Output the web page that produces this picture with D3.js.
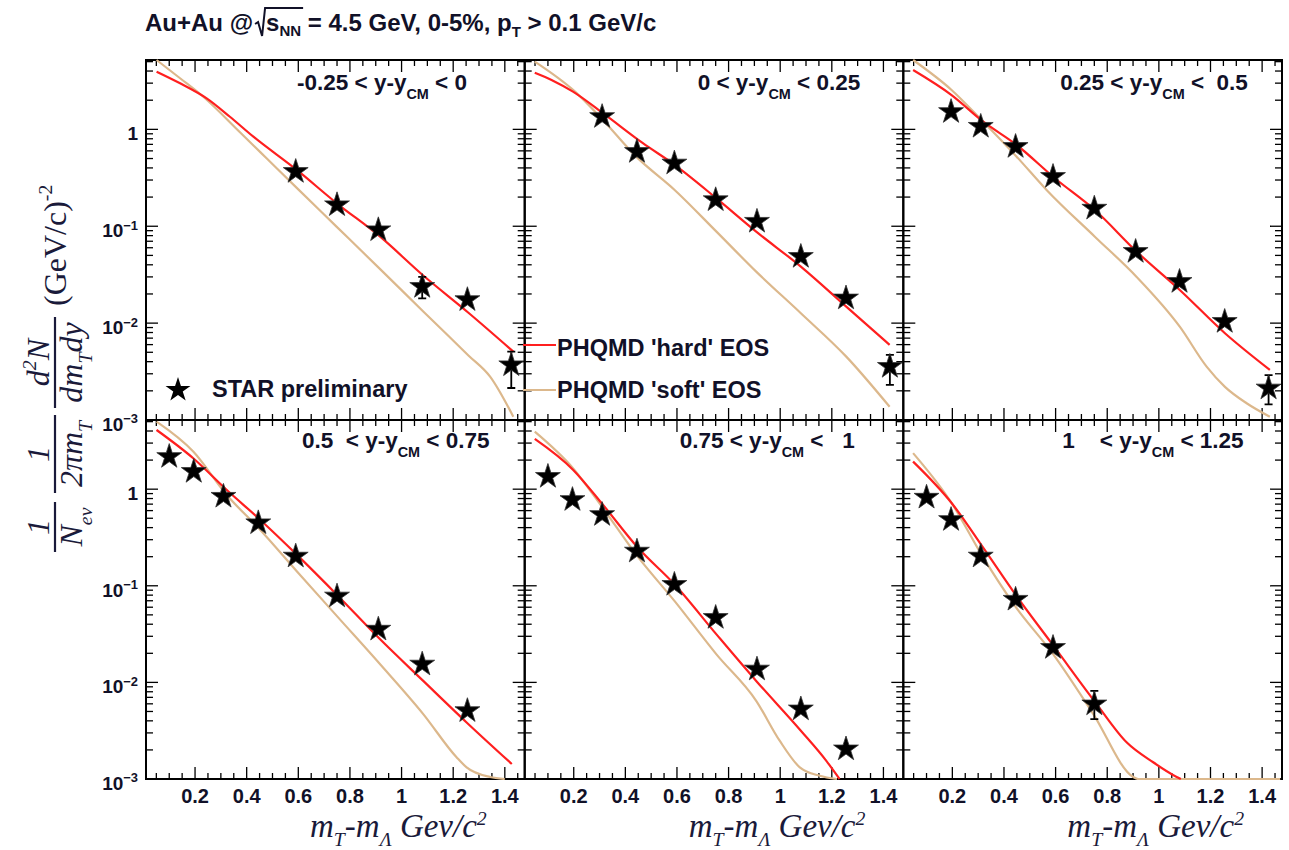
<!DOCTYPE html>
<html><head><meta charset="utf-8">
<script src="https://cdn.jsdelivr.net/npm/d3@7"></script>
<style>
body{margin:0;background:#fff;}
svg{display:block;}
text{font-family:"Liberation Sans",Arial,Helvetica,sans-serif;white-space:pre;}
.serif text, text.serif{font-family:"Liberation Serif","Times New Roman",serif;font-style:italic;}
</style></head><body>
<svg id="chart" width="1289" height="850"></svg>
<script>
// ---------------- data ----------------
const binX = [0.10, 0.195, 0.31, 0.445, 0.59, 0.75, 0.91, 1.08, 1.255, 1.425];
const rapLow  = ["-0.25", "0", "0.25", "0.5 ", "0.75", "1   "];
const rapHigh = ["0", "0.25", " 0.5", "0.75", "  1", "1.25"];
const starY = [
  [null, null, null, null, 0.366, 0.166, 0.0916, 0.0238, 0.0174, 0.0037],
  [null, null, 1.35, 0.589, 0.447, 0.187, 0.112, 0.0486, 0.0181, 0.00356],
  [null, 1.52, 1.07, 0.663, 0.325, 0.153, 0.0547, 0.0268, 0.01036, 0.00213],
  [2.17, 1.52, 0.84, 0.447, 0.202, 0.078, 0.0354, 0.0154, 0.00508, null],
  [1.35, 0.778, 0.544, 0.2275, 0.103, 0.0468, 0.01368, 0.00529, 0.00204, null],
  [0.822, 0.483, 0.202, 0.0722, 0.0229, 0.00596, null, null, null, null]
];
const errLo = [
  [null, null, null, null, null, null, null, 0.018, null, 0.00214],
  [null, null, null, null, null, null, null, null, null, 0.0023],
  [null, null, null, null, null, null, null, null, null, 0.00145],
  [null, null, null, null, null, null, null, null, null, null],
  [null, null, null, null, null, null, null, null, null, null],
  [null, null, null, null, null, 0.00417, null, null, null, null]
];
const errHi = [
  [null, null, null, null, null, null, null, 0.030, null, 0.00507],
  [null, null, null, null, null, null, null, null, null, 0.0047],
  [null, null, null, null, null, null, null, null, null, 0.0029],
  [null, null, null, null, null, null, null, null, null, null],
  [null, null, null, null, null, null, null, null, null, null],
  [null, null, null, null, null, 0.00817, null, null, null, null]
];
const hardX = [
  [0.051, 0.142, 0.245, 0.335, 0.426, 0.594, 0.749, 0.917, 1.084, 1.259, 1.433],
  [0.049, 0.114, 0.197, 0.313, 0.468, 0.591, 0.753, 0.907, 1.08, 1.256, 1.424],
  [0.048, 0.197, 0.32, 0.449, 0.597, 0.752, 0.914, 1.081, 1.256, 1.43],
  [0.051, 0.193, 0.322, 0.452, 0.594, 0.755, 0.917, 1.084, 1.252, 1.427],
  [0.049, 0.197, 0.313, 0.449, 0.591, 0.753, 0.907, 1.08, 1.178, 1.23],
  [0.048, 0.197, 0.32, 0.449, 0.597, 0.759, 0.875, 0.978, 1.069, 1.085]
];
const hardY = [
  [3.94, 2.99, 2.09, 1.35, 0.84, 0.381, 0.1726, 0.078, 0.031, 0.0128, 0.00508],
  [3.85, 3.24, 2.45, 1.47, 0.72, 0.43, 0.194, 0.088, 0.0383, 0.0148, 0.00596],
  [4.1, 2.26, 1.2, 0.69, 0.313, 0.147, 0.0547, 0.022, 0.00787, 0.00329],
  [4.1, 2.09, 0.986, 0.483, 0.21, 0.078, 0.0279, 0.01036, 0.00385, 0.00143],
  [3.31, 1.59, 0.69, 0.247, 0.103, 0.0314, 0.01036, 0.00316, 0.00155, 0.001],
  [1.93, 0.72, 0.247, 0.078, 0.0229, 0.00596, 0.0024, 0.00149, 0.00105, 0.001]
];
const softX = [
  [0.051, 0.142, 0.232, 0.374, 0.478, 0.594, 0.749, 0.917, 1.084, 1.259, 1.343, 1.433],
  [0.049, 0.205, 0.313, 0.442, 0.591, 0.753, 0.907, 1.08, 1.256, 1.424],
  [0.048, 0.197, 0.313, 0.449, 0.565, 0.752, 0.914, 1.081, 1.185, 1.256, 1.34, 1.43],
  [0.051, 0.193, 0.322, 0.452, 0.594, 0.755, 0.917, 1.084, 1.213, 1.252, 1.343, 1.40],
  [0.049, 0.197, 0.313, 0.442, 0.591, 0.753, 0.907, 0.998, 1.076, 1.153, 1.22],
  [0.048, 0.197, 0.313, 0.443, 0.591, 0.746, 0.901, 0.92, 1.47]
];
const softY = [
  [5.2, 3.37, 2.17, 0.933, 0.50, 0.249, 0.0986, 0.0361, 0.0132, 0.00464, 0.0028, 0.00108],
  [5.0, 2.45, 1.25, 0.523, 0.237, 0.088, 0.034, 0.01265, 0.00451, 0.00137],
  [5.2, 2.55, 1.25, 0.523, 0.237, 0.078, 0.030, 0.0092, 0.00356, 0.0022, 0.00149, 0.00108],
  [5.0, 2.45, 0.875, 0.381, 0.1416, 0.0468, 0.0154, 0.0047, 0.00168, 0.00132, 0.00105, 0.001],
  [3.94, 1.65, 0.638, 0.21, 0.0693, 0.0195, 0.00645, 0.00249, 0.00132, 0.00108, 0.001],
  [2.36, 0.72, 0.21, 0.0616, 0.0195, 0.0047, 0.00105, 0.001, 0.001]
];
const xTickValues = [0.2, 0.4, 0.6, 0.8, 1.0, 1.2, 1.4];
const xTickLabels = ["0.2", "0.4", "0.6", "0.8", "1", "1.2", "1.4"];
const yTickValues = [1, 0.1, 0.01, 0.001];
const yTickBase = ["1", "10", "10", "10"];
const yTickExp  = ["", "\u22121", "\u22122", "\u22123"];
const legendEntries = ["PHQMD 'hard' EOS", "PHQMD 'soft' EOS"];
const starLegend = "STAR preliminary";

// ---------------- layout ----------------
const colEdges = [146, 524.7, 903.3, 1282];
const rowEdges = [60, 420, 779];
const xDomain = [0.01, 1.477];
const yDomain = [1e-3, 5.2];
const labelOffset = [151, 173, 157, 156, 155, 159];
const RED = "#ff1f1f", TAN = "#dcb88c", INK = "#111128";

const svg = d3.select("#chart");

function rich(textSel, parts, size, opts = {}) {
  const small = opts.small || 0.62, subS = opts.sub || 0.35, supS = opts.sup || 0.45;
  let shift = 0;
  parts.forEach(([str, kind]) => {
    const target = kind === "sub" ? size * subS : kind === "sup" ? -size * supS : 0;
    const ts = textSel.append("tspan").attr("font-size", kind === "n" ? size : size * small).text(str);
    if (target - shift !== 0) ts.attr("dy", target - shift);
    shift = target;
  });
  return textSel;
}

const defs = svg.append("defs");
const starPath = d3.symbol(d3.symbolStar, 192)();

for (let p = 0; p < 6; p++) {
  const col = p % 3, row = Math.floor(p / 3);
  const x = d3.scaleLinear().domain(xDomain).range([colEdges[col], colEdges[col + 1]]);
  const y = d3.scaleLog().domain(yDomain).range([rowEdges[row + 1], rowEdges[row]]);
  const [x0, x1] = x.range(), [yb, yt] = y.range();
  const g = svg.append("g");
  defs.append("clipPath").attr("id", "clip" + p).append("rect")
    .attr("x", x0).attr("y", yt - 1).attr("width", x1 - x0).attr("height", yb - yt + 2);

  // frame and ticks first (ROOT draws graphs on top of the frame)
  g.append("rect").attr("x", x0).attr("y", yt).attr("width", x1 - x0).attr("height", yb - yt)
    .attr("fill", "none").attr("stroke", "#000").attr("stroke-width", 2);
  const tk = g.append("g").attr("stroke", "#000").attr("stroke-width", 1.3);
  d3.range(1, 30).map(k => k * 0.05).filter(v => v > xDomain[0] && v < xDomain[1]).forEach(v => {
    const major = Math.abs(v / 0.2 - Math.round(v / 0.2)) < 1e-6;
    const L = major ? 12 : 6;
    tk.append("line").attr("x1", x(v)).attr("x2", x(v)).attr("y1", yb).attr("y2", yb - L);
    tk.append("line").attr("x1", x(v)).attr("x2", x(v)).attr("y1", yt).attr("y2", yt + L);
  });
  for (let e = -3; e <= 0; e++) {
    for (let m = 1; m <= 9; m++) {
      const v = m * Math.pow(10, e);
      if (v < yDomain[0] || v > yDomain[1]) continue;
      const L = m === 1 ? 12 : 7;
      tk.append("line").attr("x1", x0).attr("x2", x0 + L).attr("y1", y(v)).attr("y2", y(v));
      tk.append("line").attr("x1", x1).attr("x2", x1 - L).attr("y1", y(v)).attr("y2", y(v));
    }
  }

  const line = d3.line().x(d => x(d[0])).y(d => y(d[1])).curve(d3.curveMonotoneX);
  const lines = g.append("g").attr("clip-path", `url(#clip${p})`);
  lines.append("path").datum(softX[p].map((v, i) => [v, softY[p][i]]))
    .attr("d", line).attr("fill", "none").attr("stroke", TAN).attr("stroke-width", 2.2);
  lines.append("path").datum(hardX[p].map((v, i) => [v, hardY[p][i]]))
    .attr("d", line).attr("fill", "none").attr("stroke", RED).attr("stroke-width", 2.2);

  // error bars
  binX.forEach((bx, i) => {
    if (errLo[p][i] == null) return;
    const cx = x(bx), ylo = y(errLo[p][i]), yhi = y(errHi[p][i]);
    g.append("path").attr("d", `M${cx},${ylo}V${yhi}M${cx - 4},${ylo}H${cx + 4}M${cx - 4},${yhi}H${cx + 4}`)
      .attr("stroke", "#000").attr("stroke-width", 1.8).attr("fill", "none");
  });
  // stars
  binX.forEach((bx, i) => {
    if (starY[p][i] == null) return;
    g.append("path").attr("d", starPath)
      .attr("transform", `translate(${x(bx)},${y(starY[p][i])})`)
      .attr("fill", "#000").attr("stroke", "#333").attr("stroke-width", 0.8);
  });

  // panel label
  const lab = g.append("text").attr("x", x0 + labelOffset[p]).attr("y", yt + (row === 0 ? 30 : 28))
    .attr("font-weight", "bold").attr("fill", INK);
  rich(lab, [[rapLow[p] + " < y-y", "n"], ["CM", "sub"], [" < " + rapHigh[p], "n"]], 22.5, { sub: 0.42, small: 0.64 });

  // x tick labels
  if (row === 1) {
    xTickValues.forEach((v, i) => {
      g.append("text").attr("x", x(v)).attr("y", yb + 24).attr("text-anchor", "middle")
        .attr("font-size", 20).attr("font-weight", "bold").attr("fill", INK).text(xTickLabels[i]);
    });
    const t = g.append("text").attr("class", "serif").attr("x", x0 + 164).attr("y", yb + 58).attr("fill", "#1a1a3a");
    rich(t, [["m", "n"], ["T", "sub"], ["-m", "n"], ["\u039B", "sub"], [" Gev/c", "n"], ["2", "sup"]], 33, { sub: 0.28, sup: 0.36, small: 0.6 });
  }
  // y tick labels
  if (col === 0) {
    yTickValues.forEach((v, i) => {
      const t = g.append("text").attr("x", x0 - 8).attr("y", y(v) + 11).attr("text-anchor", "end")
        .attr("font-weight", "bold").attr("fill", INK);
      rich(t, yTickExp[i] ? [[yTickBase[i], "n"], [yTickExp[i], "sup"]] : [[yTickBase[i], "n"]], 19, { sup: 0.4, small: 0.68 });
    });
  }
  // legends
  if (p === 0) {
    g.append("path").attr("d", starPath).attr("transform", `translate(178,390)`).attr("fill", "#000");
    g.append("text").attr("x", 212).attr("y", 397).attr("font-size", 23.5).attr("font-weight", "bold")
      .attr("fill", INK).text(starLegend);
  }
  if (p === 1) {
    [[RED, 345, 356], [TAN, 390, 398]].forEach(([c, ly, ty], i) => {
      g.append("line").attr("x1", 523).attr("x2", 556).attr("y1", ly).attr("y2", ly)
        .attr("stroke", c).attr("stroke-width", 2.2);
      g.append("text").attr("x", 557).attr("y", ty).attr("font-size", 23.5).attr("font-weight", "bold")
        .attr("fill", INK).text(legendEntries[i]);
    });
  }
}

// title
const title = svg.append("text").attr("x", 145).attr("y", 31).attr("font-size", 24)
  .attr("font-weight", "bold").attr("fill", INK);
title.append("tspan").text("Au+Au @");
const sTs = title.append("tspan").attr("dx", 13).text("s");
const nnTs = title.append("tspan").attr("dy", 5).attr("font-size", 15).text("NN");
title.append("tspan").attr("dy", -5).text(" = 4.5 GeV, 0-5%, p");
title.append("tspan").attr("dy", 6).attr("font-size", 15).text("T");
title.append("tspan").attr("dy", -6).text(" > 0.1 GeV/c");
const bS = sTs.node().getBBox(), bN = nnTs.node().getBBox();
const rx = bS.x - 11;
svg.append("path").attr("d", `M${rx},24L${rx + 3},22L${rx + 7},36L${rx + 10},8L${bN.x + bN.width + 2},8`)
  .attr("fill", "none").attr("stroke", INK).attr("stroke-width", 2);

// y axis title (rotated)
const yt = svg.append("g").attr("class", "serif").attr("transform", "translate(55,552) rotate(-90)");
function frac(a, b, num, den) {
  yt.append("line").attr("x1", a).attr("x2", b).attr("y1", 0).attr("y2", 0)
    .attr("stroke", "#1a1a3a").attr("stroke-width", 2.2);
  rich(yt.append("text").attr("x", (a + b) / 2).attr("y", -6).attr("text-anchor", "middle").attr("fill", "#1a1a3a"), num, 32, { sup: 0.4 });
  rich(yt.append("text").attr("x", (a + b) / 2).attr("y", 27).attr("text-anchor", "middle").attr("fill", "#1a1a3a"), den, 32, { sub: 0.3 });
}
frac(0, 50, [["1", "n"]], [["N", "n"], ["ev", "sub"]]);
frac(59, 137, [["1", "n"]], [["2\u03C0m", "n"], ["T", "sub"]]);
frac(144, 235, [["d", "n"], ["2", "sup"], ["N", "n"]], [["dm", "n"], ["T", "sub"], ["dy", "n"]]);
const gu = yt.append("text").attr("x", 246).attr("y", 11).attr("fill", "#1a1a3a").style("font-style", "normal");
rich(gu, [["(GeV/c)", "n"], ["-2", "sup"]], 32, { sup: 0.45 });
</script>
</body></html>
